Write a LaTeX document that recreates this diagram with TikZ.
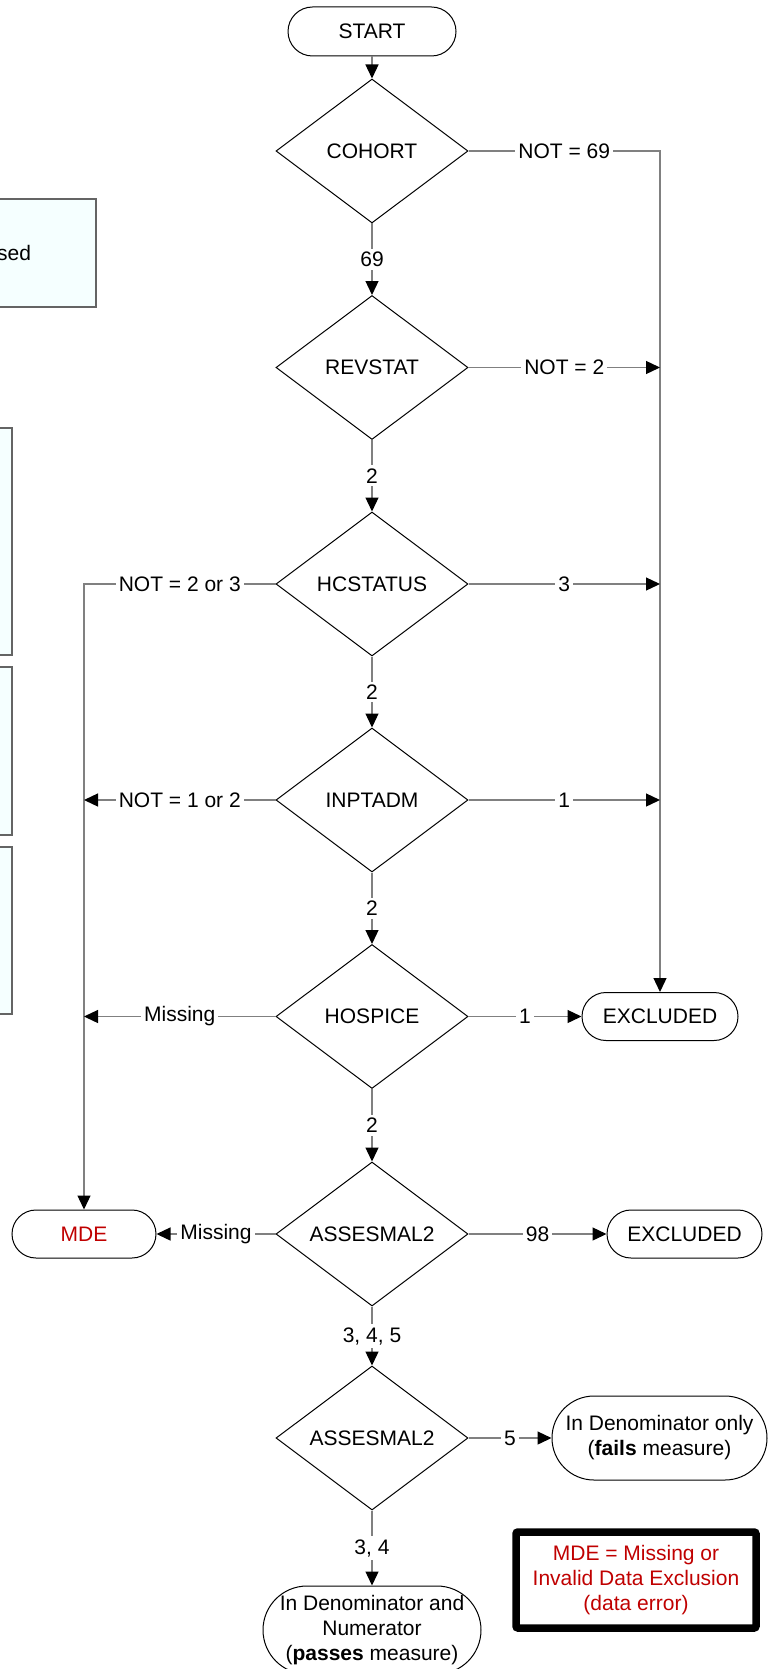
\documentclass[tikz,border=0pt]{standalone}
\usepackage{fontspec}
\setmainfont{Liberation Sans}
\usetikzlibrary{shapes.geometric,arrows.meta}
\definecolor{conngray}{RGB}{128,128,128}
\definecolor{mdered}{RGB}{192,0,0}
\definecolor{boxfill}{RGB}{245,255,255}
\definecolor{boxline}{RGB}{100,100,100}
\begin{document}
\begin{tikzpicture}[x=0.5pt,y=-0.5pt,
  every node/.style={font=\fontsize{10.5}{12.5}\selectfont},
  dec/.style={diamond, draw=black, line width=0.5pt, minimum width=96pt, minimum height=72pt, inner sep=0pt, aspect=1.333},
  term/.style={rectangle, draw=black, line width=0.5pt, minimum height=24pt, rounded corners=12pt, inner sep=0pt},
  conn/.style={draw=conngray, line width=0.65pt, -{Triangle[length=7pt,width=6.5pt,color=black]}},
  lbl/.style={fill=white, inner sep=1.5pt, text=black},
  cutbox/.style={rectangle, draw=boxline, fill=boxfill, line width=0.6pt, inner sep=0pt}
]
\useasboundingbox (0,0) rectangle (768,1669);
\fill[white] (0,0) rectangle (768,1669);
\clip (0,0) rectangle (768,1669);

% cut-off boxes at the left edge
\node[cutbox, minimum width=123pt, minimum height=54pt] (boxA) at (-27,253) {};
\node[anchor=east, inner sep=0pt] (sedtxt) at (31.5,253) {sed};
\node[cutbox, minimum width=81pt, minimum height=113.5pt] (boxB) at (-69,541.5) {};
\node[cutbox, minimum width=81pt, minimum height=84pt] (boxC) at (-69,751) {};
\node[cutbox, minimum width=81pt, minimum height=83.5pt] (boxD) at (-69,930.5) {};

% main column
\node[term, minimum width=84pt, minimum height=24.5pt, rounded corners=12.25pt] (start) at (372,31.5) {START};
\node[dec] (cohort) at (372,151) {COHORT};
\node[dec] (revstat) at (372,367.5) {REVSTAT};
\node[dec] (hcstatus) at (372,584) {HCSTATUS};
\node[dec] (inptadm) at (372,800) {INPTADM};
\node[dec] (hospice) at (372,1016.5) {HOSPICE};
\node[dec] (assA) at (372,1234) {ASSESMAL2};
\node[dec] (assB) at (372,1438) {ASSESMAL2};
\node[term, minimum width=109pt, minimum height=44pt, rounded corners=22pt, align=center] (pass) at (372,1630) {In Denominator and\\Numerator\\(\textbf{passes} measure)};

% right outcomes
\node[term, minimum width=78pt] (exc1) at (660,1016.5) {EXCLUDED};
\node[term, minimum width=77.5pt] (exc2) at (684.5,1234) {EXCLUDED};
\node[term, minimum width=107.5pt, minimum height=42pt, rounded corners=21pt, align=center] (denom) at (659.5,1438) {In Denominator only\\(\textbf{fails} measure)};

% left outcome
\node[term, minimum width=72pt, text=mdered] (mde) at (84,1234) {MDE};

% legend
\node[rectangle, draw=black, line width=3.75pt, rounded corners=1pt, minimum width=120pt, minimum height=48pt, text=mdered, align=center, inner sep=0pt] (legend) at (636,1580) {MDE = Missing or\\Invalid Data Exclusion\\(data error)};

% vertical flow
\draw[conn] (start.south) -- (cohort.north);
\draw[conn] (cohort.south) -- node[lbl]{69} (revstat.north);
\draw[conn] (revstat.south) -- node[lbl]{2} (hcstatus.north);
\draw[conn] (hcstatus.south) -- node[lbl]{2} (inptadm.north);
\draw[conn] (inptadm.south) -- node[lbl]{2} (hospice.north);
\draw[conn] (hospice.south) -- node[lbl]{2} (assA.north);
\draw[conn] (assA.south) -- node[lbl]{3, 4, 5} (assB.north);
\draw[conn] (assB.south) -- node[lbl]{3, 4} (pass.north);

% right branches
\coordinate (rc) at (cohort.east -| exc1.north);
\draw[conn] (cohort.east) -- node[lbl]{NOT = 69} (rc) -- (exc1.north);
\draw[conn] (revstat.east) -- node[lbl]{NOT = 2} (revstat.east -| exc1.north);
\draw[conn] (hcstatus.east) -- node[lbl]{3} (hcstatus.east -| exc1.north);
\draw[conn] (inptadm.east) -- node[lbl]{1} (inptadm.east -| exc1.north);
\draw[conn] (hospice.east) -- node[lbl]{1} (exc1.west);
\draw[conn] (assA.east) -- node[lbl]{98} (exc2.west);
\draw[conn] (assB.east) -- node[lbl]{5} (denom.west);

% left branches
\coordinate (lc) at (hcstatus.west -| mde.north);
\draw[conn] (hcstatus.west) -- node[lbl]{NOT = 2 or 3} (lc) -- (mde.north);
\draw[conn] (inptadm.west) -- node[lbl]{NOT = 1 or 2} (inptadm.west -| mde.north);
\draw[conn] (hospice.west) -- node[lbl]{Missing} (hospice.west -| mde.north);
\draw[conn] (assA.west) -- node[lbl]{Missing} (mde.east);
\end{tikzpicture}
\end{document}
